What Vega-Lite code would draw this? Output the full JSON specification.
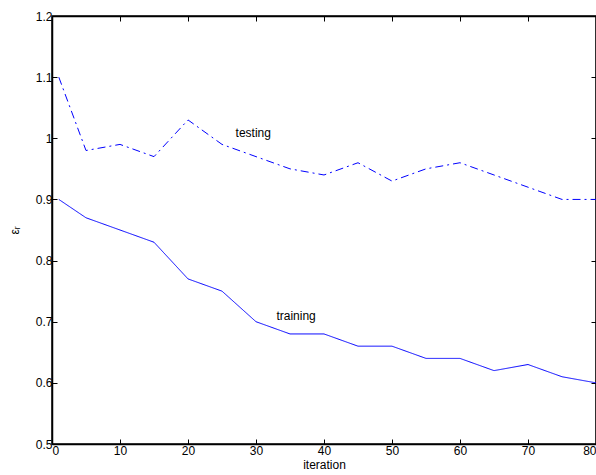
{
  "$schema": "https://vega.github.io/schema/vega-lite/v6.json",
  "autosize": "none",
  "width": 544,
  "height": 428,
  "padding": {"left": 52, "top": 16, "right": 0, "bottom": 31},
  "background": "white",
  "config": {
    "font": "Liberation Sans",
    "view": {"stroke": "black", "strokeWidth": 1.5},
    "axis": {"grid": false, "domainColor": "black", "domainWidth": 1.5, "tickColor": "black", "tickWidth": 1, "tickSize": -5, "labelColor": "black", "titleColor": "black", "labelFontSize": 12, "titleFontSize": 12, "titleFontWeight": "normal"}
  },
  "datasets": {
    "lines": [
      {"iteration": 1, "value": 0.90, "series": "training"},
      {"iteration": 5, "value": 0.87, "series": "training"},
      {"iteration": 10, "value": 0.85, "series": "training"},
      {"iteration": 15, "value": 0.83, "series": "training"},
      {"iteration": 20, "value": 0.77, "series": "training"},
      {"iteration": 25, "value": 0.75, "series": "training"},
      {"iteration": 30, "value": 0.70, "series": "training"},
      {"iteration": 35, "value": 0.68, "series": "training"},
      {"iteration": 40, "value": 0.68, "series": "training"},
      {"iteration": 45, "value": 0.66, "series": "training"},
      {"iteration": 50, "value": 0.66, "series": "training"},
      {"iteration": 55, "value": 0.64, "series": "training"},
      {"iteration": 60, "value": 0.64, "series": "training"},
      {"iteration": 65, "value": 0.62, "series": "training"},
      {"iteration": 70, "value": 0.63, "series": "training"},
      {"iteration": 75, "value": 0.61, "series": "training"},
      {"iteration": 80, "value": 0.60, "series": "training"},
      {"iteration": 1, "value": 1.10, "series": "testing"},
      {"iteration": 5, "value": 0.98, "series": "testing"},
      {"iteration": 10, "value": 0.99, "series": "testing"},
      {"iteration": 15, "value": 0.97, "series": "testing"},
      {"iteration": 20, "value": 1.03, "series": "testing"},
      {"iteration": 25, "value": 0.99, "series": "testing"},
      {"iteration": 30, "value": 0.97, "series": "testing"},
      {"iteration": 35, "value": 0.95, "series": "testing"},
      {"iteration": 40, "value": 0.94, "series": "testing"},
      {"iteration": 45, "value": 0.96, "series": "testing"},
      {"iteration": 50, "value": 0.93, "series": "testing"},
      {"iteration": 55, "value": 0.95, "series": "testing"},
      {"iteration": 60, "value": 0.96, "series": "testing"},
      {"iteration": 65, "value": 0.94, "series": "testing"},
      {"iteration": 70, "value": 0.92, "series": "testing"},
      {"iteration": 75, "value": 0.90, "series": "testing"},
      {"iteration": 80, "value": 0.90, "series": "testing"}
    ],
    "labels": [
      {"iteration": 27, "value": 1.008, "text": "testing"},
      {"iteration": 33, "value": 0.71, "text": "training"}
    ]
  },
  "layer": [
    {
      "data": {"name": "lines"},
      "mark": {"type": "line", "strokeWidth": 1, "clip": true},
      "encoding": {
        "x": {"field": "iteration", "type": "quantitative", "scale": {"domain": [0, 80], "nice": false}, "axis": {"title": "iteration", "values": [0,10,20,30,40,50,60,70,80], "titlePadding": 3, "labelPadding": 6}},
        "y": {"field": "value", "type": "quantitative", "scale": {"domain": [0.5, 1.2], "nice": false, "zero": false}, "axis": {"title": "εᵣ", "values": [0.5,0.6,0.7,0.8,0.9,1.0,1.1,1.2], "format": ".1~f", "titlePadding": 14, "labelPadding": 5}},
        "color": {"field": "series", "type": "nominal", "scale": {"domain": ["training", "testing"], "range": ["#0000ff", "#0000ff"]}, "legend": null},
        "strokeDash": {"field": "series", "type": "nominal", "scale": {"domain": ["training", "testing"], "range": [[1, 0], [8, 4, 2, 4]]}, "legend": null}
      }
    },
    {
      "data": {"name": "labels"},
      "mark": {"type": "text", "align": "left", "baseline": "middle", "fontSize": 12, "color": "black"},
      "encoding": {
        "x": {"field": "iteration", "type": "quantitative", "axis": {"orient": "top", "labels": false, "title": null, "values": [0,10,20,30,40,50,60,70,80]}},
        "y": {"field": "value", "type": "quantitative", "axis": {"orient": "right", "labels": false, "title": null, "values": [0.5,0.6,0.7,0.8,0.9,1.0,1.1,1.2]}},
        "text": {"field": "text"}
      }
    }
  ],
  "resolve": {"axis": {"x": "independent", "y": "independent"}}
}
